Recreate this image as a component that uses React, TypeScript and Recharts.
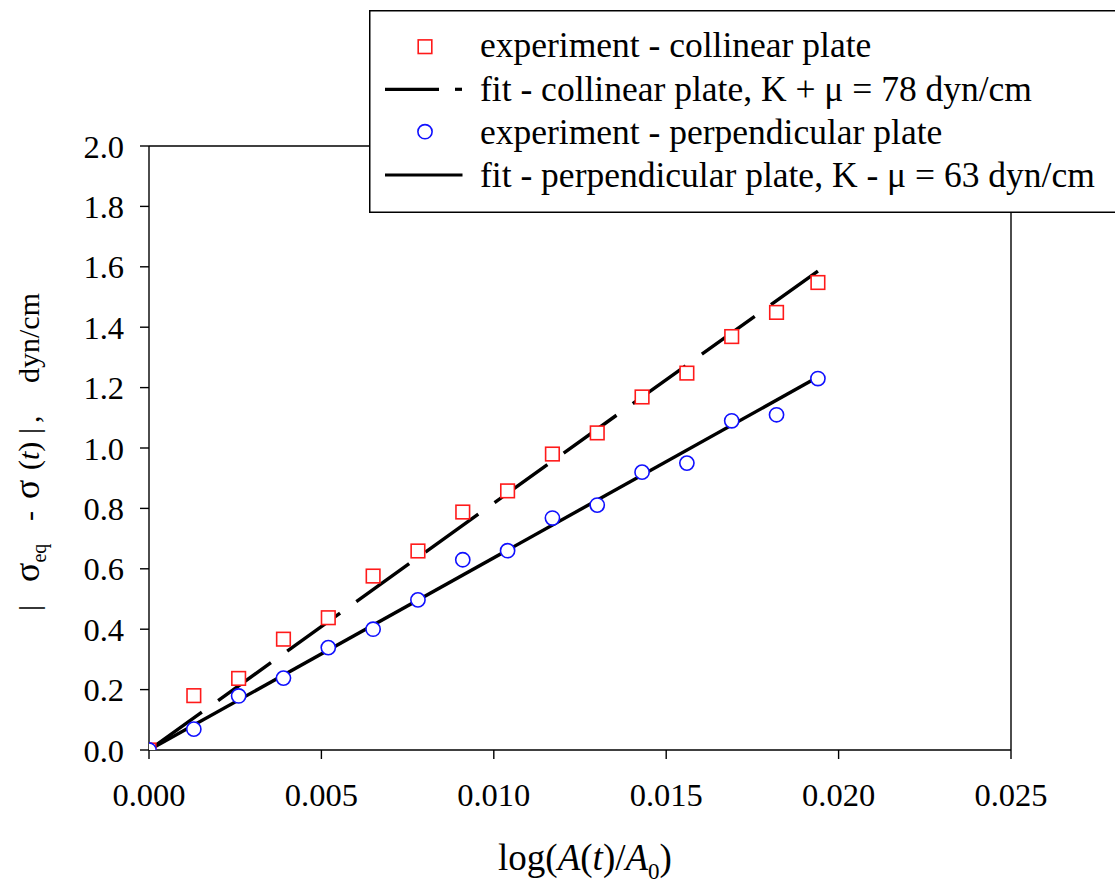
import React from 'react';
import { ComposedChart, XAxis, YAxis, Line, Scatter, ReferenceLine } from 'recharts';

const xValues = [0, 0.0013, 0.0026, 0.0039, 0.0052, 0.0065, 0.0078, 0.0091, 0.0104, 0.0117, 0.013, 0.0143, 0.0156, 0.0169, 0.0182, 0.0194];
const collinearValues = [0, 0.18, 0.237, 0.367, 0.438, 0.576, 0.659, 0.788, 0.858, 0.98, 1.05, 1.169, 1.248, 1.369, 1.449, 1.548];
const perpendicularValues = [0, 0.069, 0.179, 0.238, 0.339, 0.4, 0.497, 0.63, 0.66, 0.768, 0.811, 0.92, 0.95, 1.09, 1.11, 1.23];
const fitX = [0, 0.0194];
const fitCollinearValues = [0, 1.586];
const fitPerpendicularValues = [0, 1.235];
const xTicks = [0, 0.005, 0.01, 0.015, 0.02, 0.025];
const yTicks = [0, 0.2, 0.4, 0.6, 0.8, 1.0, 1.2, 1.4, 1.6, 1.8, 2.0];

const collinearData = xValues.map((x, i) => ({ x, y: collinearValues[i] }));
const perpendicularData = xValues.map((x, i) => ({ x, y: perpendicularValues[i] }));
const fitCollinearData = fitX.map((x, i) => ({ x, y: fitCollinearValues[i] }));
const fitPerpendicularData = fitX.map((x, i) => ({ x, y: fitPerpendicularValues[i] }));

const FONT = '"Liberation Serif", "Times New Roman", Times, serif';
const RED = '#ff1a1a';
const BLUE = '#1010ff';

const SquareShape = (props: any) => {
  const { cx, cy } = props;
  if (cx == null || cy == null) return null;
  return <rect x={cx - 6.8} y={cy - 6.8} width={13.6} height={13.6} fill="#fff" stroke={RED} strokeWidth={1.6} />;
};

const CircleShape = (props: any) => {
  const { cx, cy } = props;
  if (cx == null || cy == null) return null;
  return <circle cx={cx} cy={cy} r={7.1} fill="#fff" stroke={BLUE} strokeWidth={1.6} />;
};

const XTick = (props: any) => {
  const { x, y, payload } = props;
  return (
    <text x={x} y={y} dy={23} textAnchor="middle" style={{ fontFamily: FONT, fontSize: 32.5 }} fill="#000">
      {Number(payload.value).toFixed(3)}
    </text>
  );
};

const YTick = (props: any) => {
  const { x, y, payload } = props;
  return (
    <text x={x} y={y} dy={11.5} textAnchor="end" style={{ fontFamily: FONT, fontSize: 32.5 }} fill="#000">
      {Number(payload.value).toFixed(1)}
    </text>
  );
};

const XTitle = () => (
  <text x={585} y={870} textAnchor="middle" style={{ fontFamily: FONT, fontSize: 37 }} fill="#000">
    log(<tspan fontStyle="italic">A</tspan>(<tspan fontStyle="italic">t</tspan>)/<tspan fontStyle="italic">A</tspan>
    <tspan style={{ fontSize: 23 }} dy={9}>0</tspan>
    <tspan dy={-9}>)</tspan>
  </text>
);

const YTitle = () => (
  <text transform="translate(39,613) rotate(-90)" style={{ fontFamily: FONT, fontSize: 30 }} fill="#000">
    <tspan x={2}>|</tspan>
    <tspan x={31} style={{ fontSize: 36 }}>σ</tspan>
    <tspan style={{ fontSize: 20 }} dy={7}>eq</tspan>
    <tspan x={92} dy={-7}>-</tspan>
    <tspan x={114} style={{ fontSize: 36 }}>σ</tspan>
    <tspan x={143}>(</tspan>
    <tspan fontStyle="italic">t</tspan>
    <tspan>)</tspan>
    <tspan x={179}>|</tspan>
    <tspan x={190}>,</tspan>
    <tspan x={230}>dyn/cm</tspan>
  </text>
);

const LegendBox = () => (
  <svg width={760} height={204} style={{ position: 'absolute', left: 369, top: 10, display: 'block' }}>
    <rect x={0.75} y={0.75} width={758} height={201.5} fill="#fff" stroke="#000" strokeWidth={1.5} />
    <rect x={49.2} y={29.9} width={13.6} height={13.6} fill="#fff" stroke={RED} strokeWidth={1.6} />
    <line x1={16} y1={79.3} x2={70} y2={79.3} stroke="#000" strokeWidth={3.2} />
    <line x1={86} y1={79.3} x2={93} y2={79.3} stroke="#000" strokeWidth={3.2} />
    <circle cx={56} cy={121.7} r={7.1} fill="#fff" stroke={BLUE} strokeWidth={1.6} />
    <line x1={16} y1={165} x2={93.5} y2={165} stroke="#000" strokeWidth={3.2} />
    <g style={{ fontFamily: FONT, fontSize: 35.5 }} fill="#000">
      <text x={111} y={47}>experiment - collinear plate</text>
      <text x={111} y={90.5}>fit - collinear plate, K + μ = 78 dyn/cm</text>
      <text x={111} y={134}>experiment - perpendicular plate</text>
      <text x={111} y={177}>fit - perpendicular plate, K - μ = 63 dyn/cm</text>
    </g>
  </svg>
);

const axisStroke = { stroke: '#000', strokeWidth: 1.4 };

export default function App() {
  return (
    <div style={{ position: 'absolute', left: 0, top: 0, width: 1115, height: 886, overflow: 'hidden', background: '#fff', fontFamily: FONT }}>
      <ComposedChart
        width={1115}
        height={886}
        margin={{ top: 146, right: 104, left: 89, bottom: 76 }}
        style={{ fontFamily: FONT }}
      >
        <XAxis
          type="number"
          dataKey="x"
          domain={[0, 0.025]}
          ticks={xTicks}
          allowDataOverflow
          height={60}
          tick={<XTick />}
          tickSize={9}
          tickMargin={24}
          axisLine={axisStroke}
          tickLine={axisStroke}
          label={{ content: () => <XTitle /> }}
        />
        <YAxis
          type="number"
          dataKey="y"
          domain={[0, 2]}
          ticks={yTicks}
          allowDataOverflow
          width={60}
          tick={<YTick />}
          tickSize={9}
          tickMargin={16}
          axisLine={axisStroke}
          tickLine={axisStroke}
          label={{ content: () => <YTitle /> }}
        />
        <ReferenceLine y={2} stroke="#000" strokeWidth={1.4} />
        <ReferenceLine x={0.025} stroke="#000" strokeWidth={1.4} />
        <Line
          data={fitCollinearData}
          dataKey="y"
          type="linear"
          stroke="#000"
          strokeWidth={3.4}
          strokeDasharray="65 20"
          dot={false}
          activeDot={false}
          isAnimationActive={false}
        />
        <Line
          data={fitPerpendicularData}
          dataKey="y"
          type="linear"
          stroke="#000"
          strokeWidth={3.4}
          dot={false}
          activeDot={false}
          isAnimationActive={false}
        />
        <Scatter data={collinearData} dataKey="y" shape={SquareShape} isAnimationActive={false} />
        <Scatter data={perpendicularData} dataKey="y" shape={CircleShape} isAnimationActive={false} />
      </ComposedChart>
      <LegendBox />
    </div>
  );
}
